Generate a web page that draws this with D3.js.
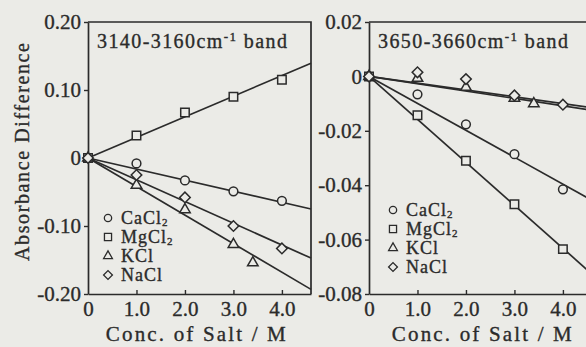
<!DOCTYPE html>
<html>
<head>
<meta charset="utf-8">
<script src="https://cdn.jsdelivr.net/npm/d3@7"></script>
<style>
  body { margin: 0; background: #ebebe7; }
  svg { display: block; }
  text { font-family: "Liberation Serif", "Times New Roman", serif; fill: #2b2b2b;
         stroke: #2b2b2b; stroke-width: 0.35px; }
</style>
</head>
<body>
<svg id="chart" width="586" height="347"></svg>
<script>
// concentrations (M)
var conc = [0, 1.0, 2.0, 3.0, 4.0];
var concKCl = [0, 1.0, 2.0, 3.0, 3.4];
var salts = ["CaCl2", "MgCl2", "KCl", "NaCl"];

// 3140-3160 cm-1 band
var bandA_CaCl2 = [0, -0.008, -0.033, -0.049, -0.063];
var bandA_MgCl2 = [0, 0.033, 0.067, 0.090, 0.115];
var bandA_KCl = [0, -0.040, -0.076, -0.127, -0.154];
var bandA_NaCl = [0, -0.025, -0.058, -0.100, -0.133];
var bandA_slopes = [-0.0163, 0.0303, -0.042, -0.032];

// 3650-3660 cm-1 band
var bandB_CaCl2 = [0, -0.0066, -0.0176, -0.0286, -0.0415];
var bandB_MgCl2 = [0, -0.0143, -0.031, -0.047, -0.0635];
var bandB_KCl = [0, -0.0007, -0.004, -0.008, -0.0100];
var bandB_NaCl = [0, 0.0015, -0.001, -0.007, -0.0104];
var bandB_slopes = [-0.0099, -0.0158, -0.0027, -0.0025];

var xTicks = [0, 1, 2, 3, 4];
var xTickLabels = ["0", "1.0", "2.0", "3.0", "4.0"];
var yTicksA = [0.2, 0.1, 0, -0.1, -0.2];
var yTickLabelsA = ["0.20", "0.10", "0", "-0.10", "-0.20"];
var yTicksB = [0.02, 0, -0.02, -0.04, -0.06, -0.08];
var yTickLabelsB = ["0.02", "0", "-0.02", "-0.04", "-0.06", "-0.08"];

var ink = "#2b2b2b", bg = "#ebebe7";
var svg = d3.select("#chart");
svg.append("rect").attr("width", 586).attr("height", 347).attr("fill", bg);

var symbols = {
  CaCl2: {type: d3.symbolCircle, size: 60, rot: 0},
  MgCl2: {type: d3.symbolSquare, size: 72, rot: 0},
  KCl: {type: d3.symbolTriangle, size: 48, rot: 0},
  NaCl: {type: d3.symbolSquare, size: 56, rot: 45}
};

function panel(opt) {
  var x = d3.scaleLinear().domain([0, 4.6]).range(opt.xr);
  var y = d3.scaleLinear().domain(opt.yd).range([294, 22]);
  var g = svg.append("g");

  // frame (top + right)
  g.append("path")
    .attr("d", "M" + x(0) + "," + y(opt.yd[1]) + "H" + x(4.6) + "V" + y(opt.yd[0]))
    .attr("fill", "none").attr("stroke", ink).attr("stroke-width", 1.7);

  var ya = g.append("g").attr("transform", "translate(" + x(0) + ",0)")
    .call(d3.axisLeft(y).tickValues(opt.yt).tickSize(4).tickSizeOuter(0).tickPadding(3)
      .tickFormat(function(d, i) { return opt.ytl[i]; }));
  var xa = g.append("g").attr("transform", "translate(0," + y(opt.yd[0]) + ")")
    .call(d3.axisBottom(x).tickValues(xTicks).tickSize(-4).tickSizeOuter(0).tickPadding(7)
      .tickFormat(function(d, i) { return xTickLabels[i]; }));
  [ya, xa].forEach(function(a) {
    a.select(".domain").attr("stroke", ink).attr("stroke-width", 1.7);
    a.selectAll(".tick line").attr("stroke", ink).attr("stroke-width", 1.4);
    a.selectAll("text").attr("font-size", 21).attr("font-family", null).attr("fill", ink);
  });
  xa.selectAll(".tick").filter(function(d) { return d === 0; }).select("line").remove();

  // fitted lines
  g.selectAll("line.fit").data(opt.slopes).join("line").attr("class", "fit")
    .attr("x1", x(0)).attr("y1", y(0))
    .attr("x2", function(s) { var xe = 4.6, ye = s * xe;
      if (ye < opt.yd[0]) xe = opt.yd[0] / s; if (ye > opt.yd[1]) xe = opt.yd[1] / s; return x(xe); })
    .attr("y2", function(s) { var ye = s * 4.6;
      return y(Math.max(opt.yd[0], Math.min(opt.yd[1], ye))); })
    .attr("stroke", ink).attr("stroke-width", 1.7);

  // markers
  opt.series.forEach(function(vals, si) {
    var name = salts[si], sym = symbols[name], xs = name === "KCl" ? concKCl : conc;
    g.selectAll(null).data(vals).join("path")
      .attr("d", d3.symbol().type(sym.type).size(sym.size))
      .attr("transform", function(d, i) {
        return "translate(" + x(xs[i]) + "," + y(d) + ") rotate(" + sym.rot + ")"; })
      .attr("fill", bg).attr("stroke", ink).attr("stroke-width", 1.5);
  });

  // band label
  var t = g.append("text").attr("x", x(0) + 9).attr("y", 48).attr("font-size", 20)
    .attr("textLength", 190).attr("lengthAdjust", "spacing");
  t.append("tspan").text(opt.band + "cm");
  t.append("tspan").attr("font-size", 13).attr("dy", -7).text("-1");
  t.append("tspan").attr("dy", 7).text(" band");

  // legend
  var lg = g.append("g").attr("transform", "translate(" + (x(0) + opt.legDx) + "," + opt.legY + ")");
  salts.forEach(function(name, i) {
    var sym = symbols[name];
    lg.append("path").attr("d", d3.symbol().type(sym.type).size(sym.size * 0.7))
      .attr("transform", "translate(0," + (i * 19) + ") rotate(" + sym.rot + ")")
      .attr("fill", "none").attr("stroke", ink).attr("stroke-width", 1.3);
    var tx = lg.append("text").attr("x", 13).attr("y", i * 19 + 6).attr("font-size", 18)
      .attr("letter-spacing", 1);
    var m = name.match(/^(\D+)(\d*)$/);
    tx.append("tspan").text(m[1]);
    if (m[2]) tx.append("tspan").attr("font-size", 11).attr("dy", 2).text(m[2]);
  });

  // x title
  g.append("text").attr("x", (opt.xr[0] + x(4.2)) / 2 + opt.titleDx).attr("y", 341)
    .attr("text-anchor", "middle").attr("font-size", 21)
    .attr("textLength", 180).attr("lengthAdjust", "spacing").text("Conc. of Salt / M");
}

panel({xr: [88, 311], yd: [-0.2, 0.2], yt: yTicksA, ytl: yTickLabelsA, slopes: bandA_slopes,
  series: [bandA_CaCl2, bandA_MgCl2, bandA_KCl, bandA_NaCl], band: "3140-3160",
  legDx: 20, legY: 218, titleDx: 6});
panel({xr: [369, 592], yd: [-0.08, 0.02], yt: yTicksB, ytl: yTickLabelsB, slopes: bandB_slopes,
  series: [bandB_CaCl2, bandB_MgCl2, bandB_KCl, bandB_NaCl], band: "3650-3660",
  legDx: 24, legY: 210, titleDx: 11});

svg.append("text").attr("transform", "translate(29,152) rotate(-90)")
  .attr("text-anchor", "middle").attr("font-size", 20)
  .attr("textLength", 218).attr("lengthAdjust", "spacing").text("Absorbance Difference");
</script>
</body>
</html>
